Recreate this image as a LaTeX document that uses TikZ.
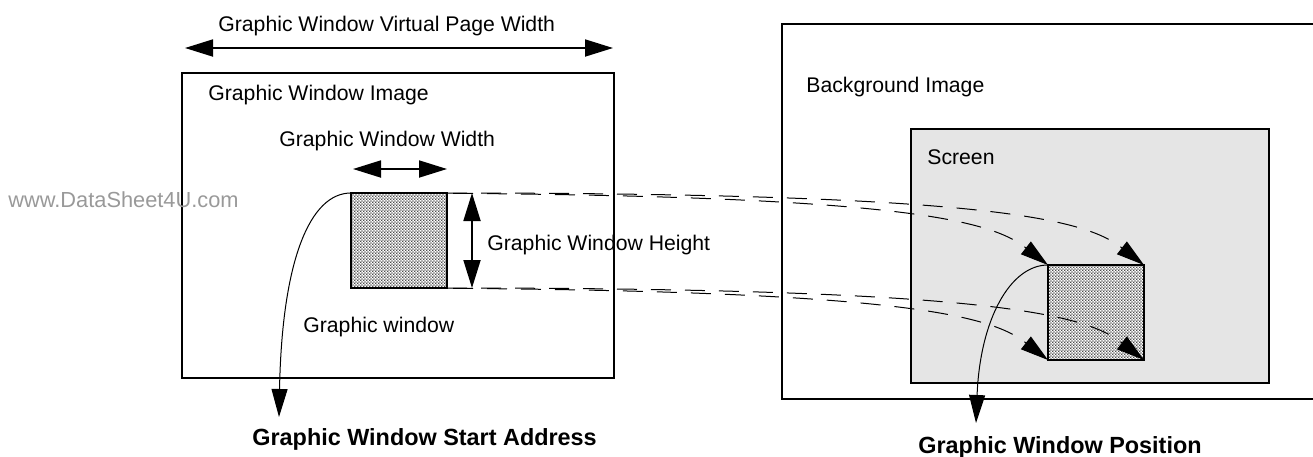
\documentclass[tikz,border=0pt]{standalone}
\usepackage{fontspec}
\setmainfont{Liberation Sans}
\usetikzlibrary{arrows.meta,patterns.meta}
\definecolor{scrgray}{gray}{0.9}
\definecolor{wmgray}{gray}{0.6}
\definecolor{hatchgray}{gray}{0.3}
\tikzdeclarepattern{name=finecheck, type=uncolored,
  bottom left={(0pt,0pt)}, top right={(1.6pt,1.6pt)}, tile size={(1.6pt,1.6pt)},
  code={\fill (0pt,0pt) rectangle (0.8pt,0.8pt); \fill (0.8pt,0.8pt) rectangle (1.6pt,1.6pt);}}
\begin{document}
\begin{tikzpicture}[x=0.5pt,y=-0.5pt,
  lbl/.style={font=\fontsize{10.6}{12.7}\selectfont, inner sep=0pt, anchor=base west},
  blbl/.style={lbl, font=\fontsize{11.7}{14}\selectfont\bfseries},
  box/.style={draw, line width=0.9pt, inner sep=0pt, outer sep=0pt},
  winbox/.style={box, preaction={fill=white}, pattern=finecheck, pattern color=hatchgray},
  dimarrow/.style={line width=0.9pt, {Triangle[length=14pt,width=8.5pt]}-{Triangle[length=14pt,width=8.5pt]}},
  lead/.style={line width=0.5pt, -{Triangle[length=14pt,width=8pt]}},
  proj/.style={line width=0.5pt, dash pattern=on 10pt off 7pt, -{Triangle[length=14pt,width=8pt]}}]
\useasboundingbox (0,0) rectangle (1313,456);
% boxes
\node[box, minimum width=216pt, minimum height=152.5pt] (img) at (398,225.5) {};
\node[box, minimum width=279pt, minimum height=187.5pt] (bg) at (1061,211.5) {};
\node[box, fill=scrgray, minimum width=179pt, minimum height=127pt] (scr) at (1090,256) {};
\node[winbox, minimum width=48pt, minimum height=47.5pt] (win) at (399,240.5) {};
\node[winbox, minimum width=48pt, minimum height=47.5pt] (pos) at (1096,312.5) {};
% texts
\node[lbl] (tvw) at (218,31.5) {Graphic Window Virtual Page Width};
\node[lbl] (timg) at (208,100) {Graphic Window Image};
\node[lbl] (tw) at (279,146) {Graphic Window Width};
\node[lbl] (th) at (487,250) {Graphic Window Height};
\node[lbl] (tgw) at (303,332) {Graphic window};
\node[lbl] (tbg) at (806,92) {Background Image};
\node[lbl] (tscr) at (927,164) {Screen};
\node[lbl, text=wmgray, font=\fontsize{10.9}{13}\selectfont] (wm) at (8,207) {www.DataSheet4U.com};
\node[blbl] (tsa) at (252,445) {Graphic Window Start Address};
\node[blbl] (tpos) at (918,453) {Graphic Window Position};
% dimension arrows
\coordinate (vw1) at (185,48);
\coordinate (vw2) at (613,48);
\draw[dimarrow] (vw1) -- (vw2);
\coordinate (ww1) at (353,169);
\coordinate (ww2) at (447,169);
\draw[dimarrow] (ww1) -- (ww2);
\coordinate (wh1) at (472,193);
\coordinate (wh2) at (472,288);
\draw[dimarrow] (wh1) -- (wh2);
% leaders
\coordinate (saTip) at (279,417);
\coordinate (posTip) at (976,423);
\draw[lead] (win.north west) .. controls (310,193) and (282,260) .. (saTip);
\draw[lead] (pos.north west) .. controls (1010,265) and (980,320) .. (posTip);
% projections
\draw[proj] (win.north west) .. controls (900,193) and (990,220) .. (pos.north west);
\draw[proj] (win.north east) .. controls (996,193) and (1086,220) .. (pos.north east);
\draw[proj] (win.south west) .. controls (900,288) and (990,315) .. (pos.south west);
\draw[proj] (win.south east) .. controls (996,288) and (1086,315) .. (pos.south east);
\end{tikzpicture}
\end{document}
